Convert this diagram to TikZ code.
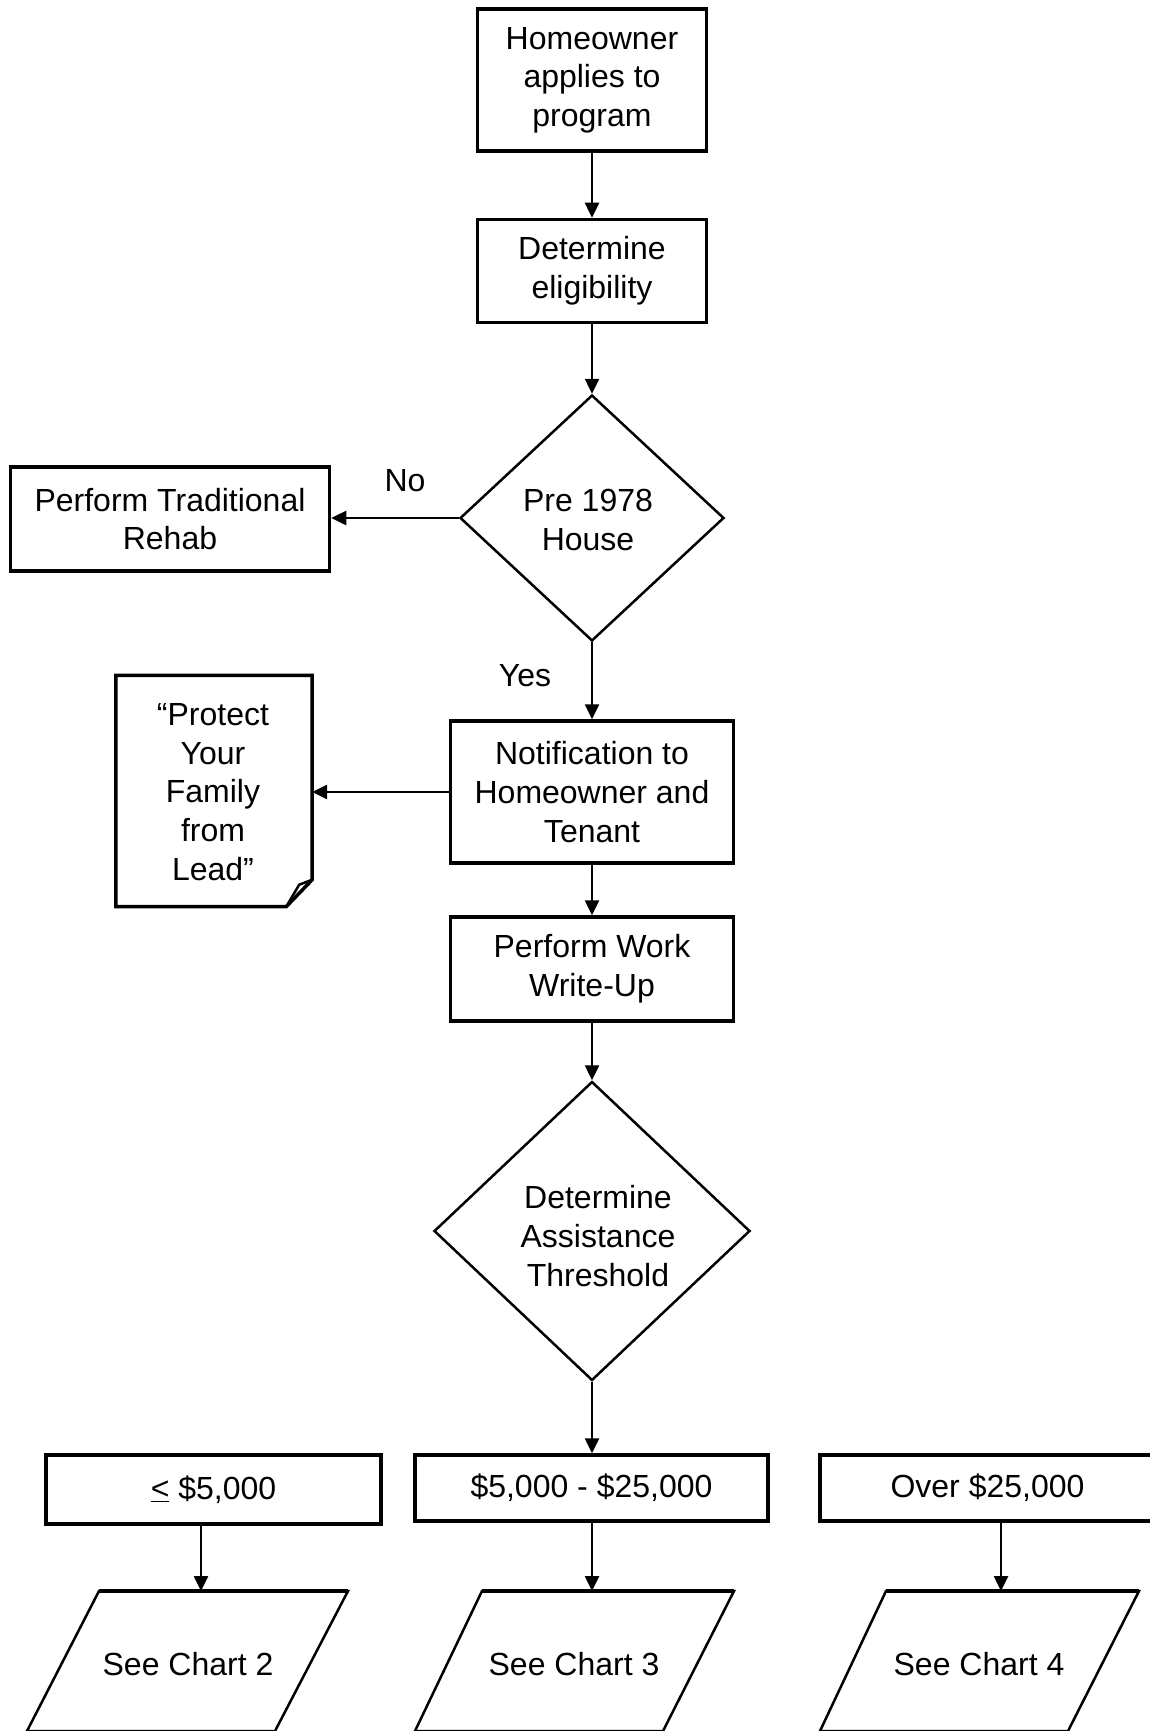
\documentclass[tikz,border=0pt]{standalone}
\usepackage{fontspec}
\setmainfont{Liberation Sans}
\usetikzlibrary{arrows.meta,shapes.geometric}
\begin{document}
\begin{tikzpicture}[x=1pt,y=-1pt,
  every node/.style={font=\fontsize{32}{38.6}\selectfont, align=center, inner sep=0pt},
  box/.style={draw, line width=3.5pt},
  dia/.style={draw, diamond, line width=2.5pt},
  arr/.style={line width=2.5pt, -{Triangle[length=15pt,width=14pt]}},
  para/.style={line width=2.5pt, line join=miter}]
\useasboundingbox (0,0) rectangle (1150,1731);
% nodes
\node[box, minimum width=229pt, minimum height=142pt] (n1) at (592,80) {Homeowner\\applies to\\program};
\node[box, minimum width=229pt, minimum height=103pt] (n2) at (592,271) {Determine\\eligibility};
\node[dia, minimum width=264pt, minimum height=246pt] (d1) at (592,518) {};
\node (d1t) at (588,520) {Pre 1978\\House};
\node[box, minimum width=319pt, minimum height=104pt] (rehab) at (170,519) {Perform Traditional\\Rehab};
\node[box, minimum width=283pt, minimum height=142pt] (notif) at (592,792) {Notification to\\Homeowner and\\Tenant};
\node[minimum width=196pt, minimum height=231pt] (doc) at (214,791) {};
\node (doct) at (213,792) {“Protect\\Your\\Family\\from\\Lead”};
\node[box, minimum width=283pt, minimum height=104pt] (work) at (592,969) {Perform Work\\Write-Up};
\node[dia, minimum width=316pt, minimum height=299pt] (d2) at (592,1231) {};
\node (d2t) at (598,1236) {Determine\\Assistance\\Threshold};
\node[box, minimum width=335pt, minimum height=69pt] (b1) at (213.5,1489.5) {\underline{<} \$5,000};
\node[box, minimum width=353pt, minimum height=66pt] (b2) at (591.5,1488) {\$5,000 - \$25,000};
\node[box, minimum width=335pt, minimum height=66pt] (b3) at (987.5,1488) {Over \$25,000};
\node (p1) at (188,1664) {See Chart 2};
\node (p2) at (574,1664) {See Chart 3};
\node (p3) at (979,1664) {See Chart 4};
\node (no) at (405,481) {No};
\node (yes) at (525,676) {Yes};
% document shape
\draw[line width=3.5pt, line join=miter] (doc.north west) -- (doc.north east) -- ([yshift=27pt]doc.south east) -- ([xshift=-26pt]doc.south east) -- (doc.south west) -- cycle;
\draw[line width=2.5pt, line join=round] ([yshift=27pt]doc.south east) -- ([xshift=-13pt,yshift=22pt]doc.south east) -- ([xshift=-26pt]doc.south east);
% parallelograms
\draw[para] (99,1591) -- (348,1591) -- (275,1731) -- (27,1731) -- cycle;
\draw[para] (482,1591) -- (734,1591) -- (663,1731) -- (415,1731) -- cycle;
\draw[para] (886,1591) -- (1139,1591) -- (1068,1731) -- (820,1731) -- cycle;
\draw[line width=4pt] (99,1591) -- (348,1591);
\draw[line width=4pt] (482,1591) -- (734,1591);
\draw[line width=4pt] (886,1591) -- (1139,1591);
\coordinate (p1top) at (201,1591);
\coordinate (p2top) at (592,1591);
\coordinate (p3top) at (1001,1591);
% connectors
\draw[arr] (n1.south) -- (n2.north);
\draw[arr] (n2.south) -- (d1.north);
\draw[arr] (d1.west) -- (d1.west -| rehab.east);
\draw[arr] (d1.south) -- (notif.north);
\draw[arr] (notif.west) -- (notif.west -| doc.east);
\draw[arr] (notif.south) -- (work.north);
\draw[arr] (work.south) -- (d2.north);
\draw[arr] (d2.south) -- (d2.south |- b2.north);
\draw[arr] (b1.south -| p1top) -- (p1top);
\draw[arr] (b2.south -| p2top) -- (p2top);
\draw[arr] (b3.south -| p3top) -- (p3top);
\end{tikzpicture}
\end{document}
